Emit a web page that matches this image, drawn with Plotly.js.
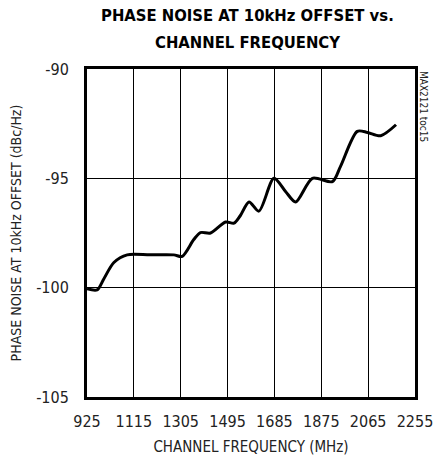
<!DOCTYPE html>
<html><head><meta charset="utf-8">
<script src="https://cdn.plot.ly/plotly-3.0.1.min.js"></script>
<style>html,body{margin:0;padding:0;background:#fff}#c{width:443px;height:460px}</style>
</head><body><div id="c"></div>
<script>
const freqMHz = [925, 966, 993, 1034, 1088, 1180, 1277, 1311, 1358, 1385, 1426, 1487, 1521, 1547, 1582, 1622, 1683, 1730, 1771, 1839, 1920, 1953, 2021, 2062, 2116, 2178];
const phaseNoise = [-100.05, -100.1, -99.6, -98.85, -98.5, -98.5, -98.5, -98.57, -97.8, -97.48, -97.5, -97.0, -97.05, -96.7, -96.08, -96.5, -95.0, -95.6, -96.08, -95.0, -95.15, -94.45, -92.85, -92.9, -93.05, -92.55];
const xTicks = [925, 1115, 1305, 1495, 1685, 1875, 2065, 2255];
const yTicks = [-105, -100, -95, -90];

const narrow = "DejaVu Sans Condensed, Liberation Sans Narrow, sans-serif";
Plotly.newPlot('c', [{
  x: freqMHz, y: phaseNoise, type: 'scatter', mode: 'lines',
  line: {color: '#000', width: 3, shape: 'spline', smoothing: 0.8}
}], {
  width: 443, height: 460,
  margin: {l: 87, r: 28, t: 69, b: 63},
  paper_bgcolor: '#fff', plot_bgcolor: '#fff',
  showlegend: false,
  xaxis: {range: [925, 2255], tickvals: xTicks, ticktext: xTicks.map(String), showgrid: true, gridcolor: '#000', gridwidth: 1,
    zeroline: false, showline: true, linecolor: '#000', linewidth: 3, mirror: true, ticks: '', ticklabelstandoff: 8,
    tickfont: {family: narrow, size: 16, color: '#222'},
    title: {text: 'CHANNEL FREQUENCY (MHz)', font: {family: narrow, size: 15, color: '#222'}, standoff: 12}},
  yaxis: {range: [-105, -90], tickvals: yTicks, ticktext: yTicks.map(String), showgrid: true, gridcolor: '#000', gridwidth: 1,
    zeroline: false, showline: true, linecolor: '#000', linewidth: 3, mirror: true, ticks: '', ticklabelstandoff: 12,
    tickfont: {family: narrow, size: 16, color: '#222'},
    title: {text: 'PHASE NOISE AT 10kHz OFFSET (dBc/Hz)', font: {family: narrow, size: 14, color: '#222'}, standoff: 12}},
  annotations: [
    {text: '<b>PHASE NOISE AT 10kHz OFFSET vs.</b>', xref: 'paper', yref: 'paper', x: 0.49, y: 1 + (69 - 16) / 328, xanchor: 'center', yanchor: 'middle',
      showarrow: false, font: {family: narrow, size: 16.5, color: '#000'}},
    {text: '<b>CHANNEL FREQUENCY</b>', xref: 'paper', yref: 'paper', x: 0.49, y: 1 + (69 - 42) / 328, xanchor: 'center', yanchor: 'middle',
      showarrow: false, font: {family: narrow, size: 16.5, color: '#000'}},
    {text: 'MAX2121 toc15', xref: 'paper', yref: 'paper', x: 1.003, y: 1.0, xanchor: 'left', yanchor: 'top',
    textangle: 90, showarrow: false, font: {family: narrow, size: 10, color: '#222'}}]
}, {staticPlot: true});
</script></body></html>
